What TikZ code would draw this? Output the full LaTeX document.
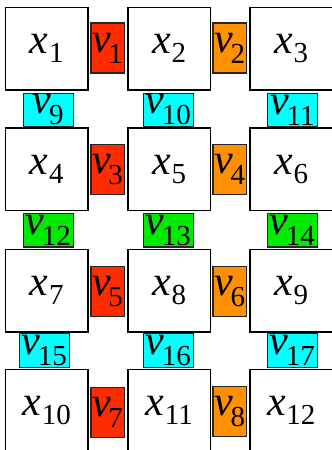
\documentclass[tikz,border=0pt]{standalone}
\usepackage{fontspec}
\newfontfamily\fa{Liberation Serif}
\definecolor{vred}{RGB}{255,44,0}
\definecolor{vorange}{RGB}{255,145,0}
\definecolor{vcyan}{RGB}{0,255,255}
\definecolor{vgreen}{RGB}{0,235,0}
\newcommand\xlab[1]{\lower3.5pt\hbox{\fa\itshape x\kern0.5pt\lower9pt\hbox{\fa\upshape\fontsize{29}{29}\selectfont #1}}}
\newcommand\vlab[1]{\lower5pt\hbox{\fa\itshape v\kern-2.5pt\lower11pt\hbox{\fa\upshape\fontsize{29}{29}\selectfont #1}}}
\tikzset{
  bigbox/.style={font=\fa\fontsize{42}{42}\selectfont, draw=black, line width=1.5pt, fill=white, rectangle, inner sep=0pt, minimum width=82.5pt, minimum height=82.5pt},
  hbox/.style={font=\fa\fontsize{42}{42}\selectfont, draw=black!85, line width=1.3pt, rectangle, inner sep=0pt, minimum width=33.5pt, minimum height=50pt},
  vbox/.style={font=\fa\fontsize{42}{42}\selectfont, draw=black!85, line width=1.3pt, rectangle, inner sep=0pt, minimum width=50pt, minimum height=33.5pt},
}
\begin{document}
\begin{tikzpicture}[x=1pt,y=-1pt]
\useasboundingbox (0,0) rectangle (332,450);
\clip (0,0) rectangle (332,450);
% big boxes
\node[bigbox] (x1) at (46.75,48.75) {\xlab{1}};
\node[bigbox] (x2) at (169.25,48.75) {\xlab{2}};
\node[bigbox] (x3) at (291.25,48.75) {\xlab{3}};
\node[bigbox] (x4) at (46.75,169.25) {\xlab{4}};
\node[bigbox] (x5) at (169.25,169.25) {\xlab{5}};
\node[bigbox] (x6) at (291.25,169.25) {\xlab{6}};
\node[bigbox] (x7) at (46.75,290.75) {\xlab{7}};
\node[bigbox] (x8) at (169.25,290.75) {\xlab{8}};
\node[bigbox] (x9) at (291.25,290.75) {\xlab{9}};
\node[bigbox] (x10) at (46.75,410.75) {\xlab{10}};
\node[bigbox] (x11) at (169.25,410.75) {\xlab{11}};
\node[bigbox] (x12) at (291.25,410.75) {\xlab{12}};
% horizontal links
\node[hbox, fill=vred] (v1) at (107.6,48) {\vlab{1}};
\node[hbox, fill=vorange] (v2) at (229.8,48) {\vlab{2}};
\node[hbox, fill=vred] (v3) at (107.6,169.5) {\vlab{3}};
\node[hbox, fill=vorange] (v4) at (229.8,169.5) {\vlab{4}};
\node[hbox, fill=vred] (v5) at (107.6,291.7) {\vlab{5}};
\node[hbox, fill=vorange] (v6) at (229.8,291.7) {\vlab{6}};
\node[hbox, fill=vred] (v7) at (107.6,412.2) {\vlab{7}};
\node[hbox, fill=vorange] (v8) at (229.8,411.7) {\vlab{8}};
% vertical links
\node[vbox, fill=vcyan] (v9) at (48.3,110) {\vlab{9}};
\node[vbox, fill=vcyan] (v10) at (168.3,110) {\vlab{10}};
\node[vbox, fill=vcyan] (v11) at (292.6,110) {\vlab{11}};
\node[vbox, fill=vgreen] (v12) at (48.3,230.2) {\vlab{12}};
\node[vbox, fill=vgreen] (v13) at (168.3,230.2) {\vlab{13}};
\node[vbox, fill=vgreen] (v14) at (292.4,230.2) {\vlab{14}};
\node[vbox, fill=vcyan] (v15) at (44.3,350.5) {\vlab{15}};
\node[vbox, fill=vcyan] (v16) at (168.3,350.5) {\vlab{16}};
\node[vbox, fill=vcyan] (v17) at (292.4,350.5) {\vlab{17}};
\end{tikzpicture}
\end{document}
